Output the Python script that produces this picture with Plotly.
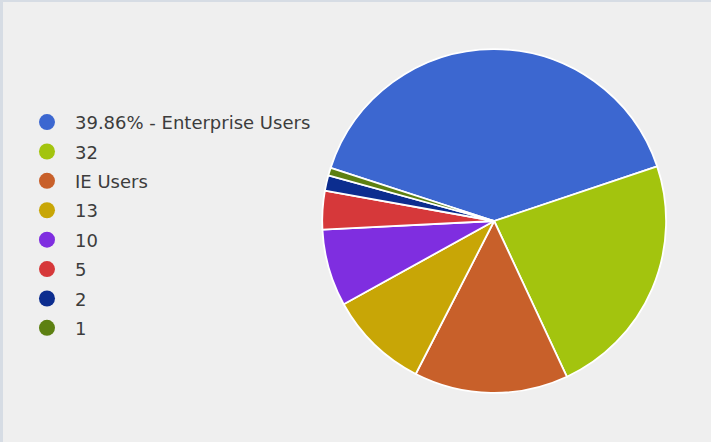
import plotly.graph_objects as go

# Slice data
labels = ["39.86% - Enterprise Users", "32", "IE Users", "13", "10", "5", "2", "1"]
values = [55, 32, 20, 13, 10, 5, 2, 1]
colors = ["#3c67d0", "#a3c40e", "#c8602a", "#c8a606", "#7f2ee0", "#d6383a", "#0c2d8f", "#5d8012"]

fig = go.Figure()

fig.add_trace(go.Pie(
    labels=labels,
    values=values,
    marker=dict(colors=colors, line=dict(color="#ffffff", width=1.8)),
    sort=False,
    direction="clockwise",
    rotation=-72,
    textinfo="none",
    hoverinfo="label+value+percent",
    showlegend=False,
    domain=dict(x=[0.40, 0.99], y=[0.111, 0.889]),
))

# Legend entries drawn as round markers
for lab, col in zip(labels, colors):
    fig.add_trace(go.Scatter(
        x=[None], y=[None], mode="markers", name=lab,
        legendgroup=lab,
        marker=dict(symbol="circle", size=16, color=col),
        hoverinfo="skip",
    ))

fig.update_layout(
    width=711, height=442,
    margin=dict(l=0, r=0, t=0, b=0),
    paper_bgcolor="#efefef",
    plot_bgcolor="#efefef",
    font=dict(family="DejaVu Sans", size=18, color="#3c3c3c"),
    xaxis=dict(visible=False, domain=[0, 0.01]),
    yaxis=dict(visible=False),
    legend=dict(
        x=0.0267, y=0.765, xanchor="left", yanchor="top",
        bgcolor="rgba(0,0,0,0)",
        traceorder="grouped",
        tracegroupgap=3,
        itemsizing="trace",
        itemwidth=46,
        font=dict(size=18, color="#3c3c3c"),
    ),
    shapes=[
        dict(type="line", xref="paper", yref="paper", x0=0, x1=1, y0=1, y1=1,
             line=dict(color="#d6dce4", width=4)),
        dict(type="line", xref="paper", yref="paper", x0=0, x1=0, y0=0, y1=1,
             line=dict(color="#d6dce4", width=6)),
    ],
)

fig.write_html("out.html")
